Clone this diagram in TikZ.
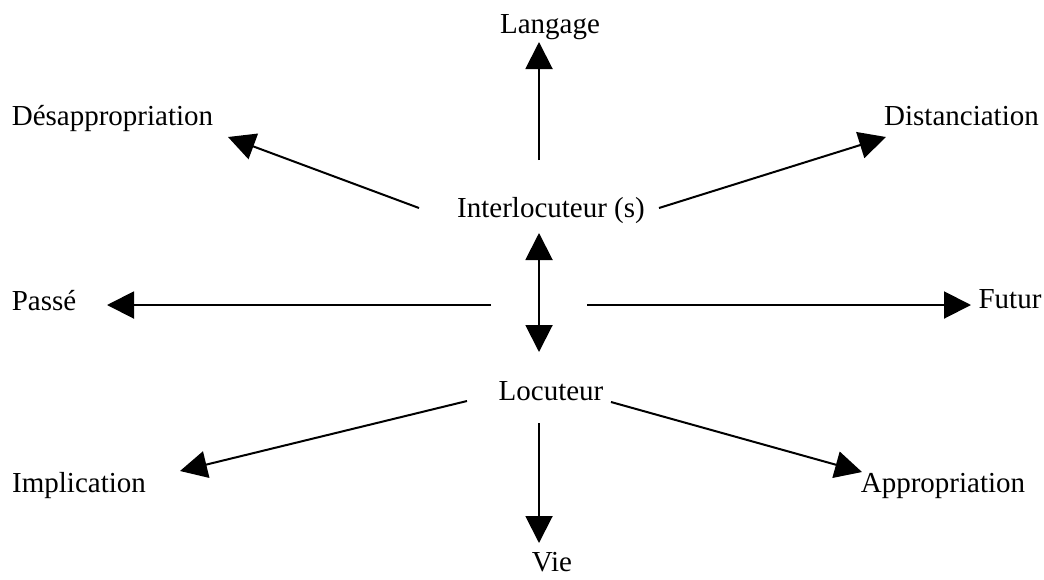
\documentclass[tikz,border=0pt]{standalone}
\usepackage{fontspec}
\setmainfont{Liberation Serif}
\usetikzlibrary{arrows.meta}
\begin{document}
\begin{tikzpicture}[x=1pt,y=-1pt,
  lbl/.style={anchor=base,inner sep=0pt,font=\fontsize{29}{33}\selectfont},
  arr/.style={line width=2pt,-{Triangle[length=27pt,width=27pt]}},
  darr/.style={line width=2pt,{Triangle[length=27pt,width=27pt]}-{Triangle[length=27pt,width=27pt]}}]
\useasboundingbox (0,0) rectangle (1044,579);
% labels
\node[lbl] (lang) at (550,33) {Langage};
\node[lbl] (desap) at (112.5,125) {Désappropriation};
\node[lbl] (dist) at (961.5,125) {Distanciation};
\node[lbl] (inter) at (551,217) {Interlocuteur (s)};
\node[lbl] (passe) at (44,310) {Passé};
\node[lbl] (futur) at (1010,308) {Futur};
\node[lbl] (loc) at (551,400) {Locuteur};
\node[lbl] (impl) at (79,492) {Implication};
\node[lbl] (appr) at (943,492) {Appropriation};
\node[lbl] (vie) at (552,571) {Vie};
% connector ends
\coordinate (sLang) at (539,160);  \coordinate (tLang) at (539,42);
\coordinate (sDesap) at (419,208); \coordinate (tDesap) at (228,137);
\coordinate (sDist) at (659,208);  \coordinate (tDist) at (886,137);
\coordinate (tInter) at (539,233); \coordinate (tLoc) at (539,352);
\coordinate (sPasse) at (491,305); \coordinate (tPasse) at (107,305);
\coordinate (sFutur) at (587,305); \coordinate (tFutur) at (971,305);
\coordinate (sImpl) at (467,401);  \coordinate (tImpl) at (180,471);
\coordinate (sAppr) at (611,402);  \coordinate (tAppr) at (862,472);
\coordinate (sVie) at (539,423);   \coordinate (tVie) at (539,543);
% connectors
\draw[arr] (sLang) -- (tLang);
\draw[arr] (sDesap) -- (tDesap);
\draw[arr] (sDist) -- (tDist);
\draw[darr] (tInter) -- (tLoc);
\draw[arr] (sPasse) -- (tPasse);
\draw[arr] (sFutur) -- (tFutur);
\draw[arr] (sImpl) -- (tImpl);
\draw[arr] (sAppr) -- (tAppr);
\draw[arr] (sVie) -- (tVie);
\end{tikzpicture}
\end{document}
